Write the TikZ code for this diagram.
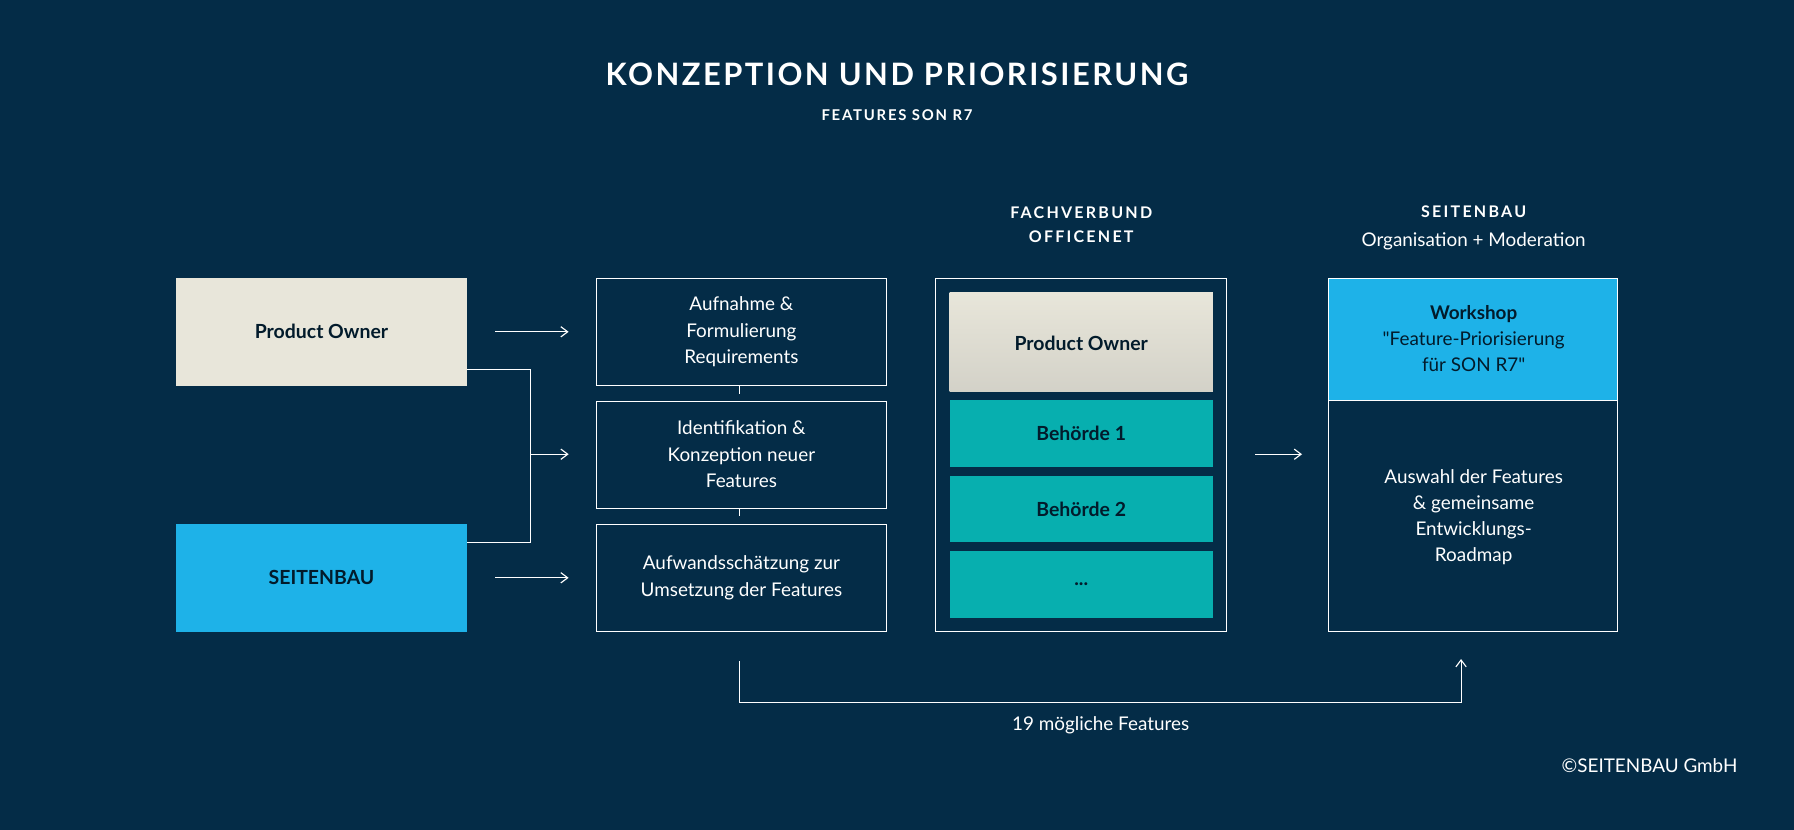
\documentclass[tikz,border=0pt]{standalone}
\usepackage{fontspec}
\setmainfont{Lato}
\newfontfamily\rawlato{Lato}[Ligatures=TeXOff]
\usetikzlibrary{arrows.meta}
\definecolor{bg}{HTML}{042C47}
\definecolor{beige}{HTML}{E8E6DA}
\definecolor{sky}{HTML}{1EB2E8}
\definecolor{teal}{HTML}{07AFAF}
\tikzset{
 x=1pt,y=-1pt,
 txt/.style={text=white,font=\fontsize{16.5}{23}\selectfont,align=center},
 outl/.style={draw=white,line width=0.8pt},
 arr/.style={draw=white,line width=1pt,-{Straight Barb[length=6pt,width=9pt]}},
 ln/.style={draw=white,line width=1pt},
 head/.style={text=white,font=\fontsize{14}{21}\selectfont\bfseries,align=center},
 dark/.style={text=bg!60!black,font=\fontsize{17}{22}\selectfont\bfseries,align=center}
}
\begin{document}
\begin{tikzpicture}
\fill[bg] (0,0) rectangle (1568,725);
\useasboundingbox (0,0) rectangle (1568,725);
\node[text=white,font=\fontsize{27}{30}\selectfont\bfseries] (title) at (784,65) {\addfontfeature{LetterSpace=8}KONZEPTION UND PRIORISIERUNG};
\node[text=white,font=\fontsize{13}{16}\selectfont\bfseries] (sub) at (784,101) {\addfontfeature{LetterSpace=12}FEATURES SON R7};
% left boxes
\fill[beige] (154,243) rectangle (408,337);
\node[dark] (po) at (281,290) {Product Owner};
\fill[sky] (154,458) rectangle (408,552);
\node[dark] (sb) at (281,505) {SEITENBAU};
% middle
\draw[outl] (521,243) rectangle (775,337);
\node[txt] (m1) at (648,290) {Aufnahme \&\\Formulierung\\Requirements};
\draw[outl] (521,351) rectangle (775,444);
\node[txt] (m2) at (648,397) {Identifikation \&\\Konzeption neuer\\Features};
\draw[outl] (521,458) rectangle (775,552);
\node[txt] (m3) at (648,505) {Aufwandsschätzung zur\\Umsetzung der Features};
\draw[ln] (646,337) -- (646,344) (646,444) -- (646,451);
\coordinate (a1) at (433,290); \coordinate (b1) at (497,290);
\coordinate (a3) at (433,505); \coordinate (b3) at (497,505);
\coordinate (a2) at (464,397); \coordinate (b2) at (497,397);
\draw[arr] (a1) -- (b1);
\draw[arr] (a3) -- (b3);
\draw[ln] (408,323) -- (464,323) -- (464,474) -- (408,474);
\draw[arr] (a2) -- (b2);
% column 3
\node[head] (h3) at (945,196) {\addfontfeature{LetterSpace=14}FACHVERBUND\\\addfontfeature{LetterSpace=14}OFFICENET};
\draw[outl] (818,243) rectangle (1072,552);
\shade[top color=beige, bottom color=beige!80!gray] (830,256) rectangle (1060,342);
\node[dark] (po2) at (945,300) {Product Owner};
\fill[teal] (830,350) rectangle (1060,408);
\node[dark] (bh1) at (945,379) {Behörde 1};
\fill[teal] (830,416) rectangle (1060,474);
\node[dark] (bh2) at (945,445) {Behörde 2};
\fill[teal] (830,482) rectangle (1060,540);
\node[dark] (bh3) at (945,511) {...};
\coordinate (c1) at (1097,397); \coordinate (c2) at (1138,397);
\draw[arr] (c1) -- (c2);
% right
\node[head] (h4) at (1288,185) {\addfontfeature{LetterSpace=14}SEITENBAU};
\node[txt] (h4b) at (1288,211) {Organisation + Moderation};
\fill[sky] (1161,243) rectangle (1414,350);
\draw[outl] (1161,243) rectangle (1414,552);
\draw[outl] (1161,350) -- (1414,350);
\node[text=bg!60!black,font=\fontsize{16.5}{23}\selectfont\rawlato,align=center] (ws) at (1288,296) {\textbf{Workshop}\\"Feature-Priorisierung\\für SON R7"};
\node[txt] (aw) at (1288,452) {Auswahl der Features\\\& gemeinsame\\Entwicklungs-\\Roadmap};
% bottom
\coordinate (d1) at (646,578); \coordinate (d2) at (646,614);
\coordinate (d3) at (1277,614); \coordinate (d4) at (1277,576);
\draw[ln] (d1) -- (d2) -- (d3);
\draw[arr] (d3) -- (d4);
\node[txt] (lbl) at (962,634) {19 mögliche Features};
\node[txt,anchor=east] (copy) at (1522,669) {©SEITENBAU GmbH};
\end{tikzpicture}
\end{document}
